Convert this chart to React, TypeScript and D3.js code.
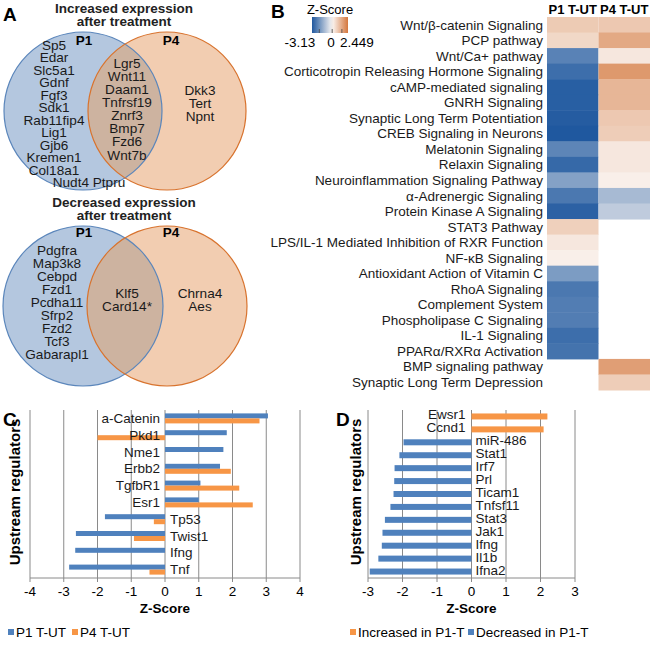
import React, { useEffect, useRef } from 'react';
import * as d3 from 'd3';

// Panel A: Venn gene lists
const upP1Only = ['Sp5', 'Edar', 'Slc5a1', 'Gdnf', 'Fgf3', 'Sdk1', 'Rab11fip4', 'Lig1', 'Gjb6', 'Kremen1', 'Col18a1', 'Nudt4 Ptpru'];
const upShared = ['Lgr5', 'Wnt11', 'Daam1', 'Tnfrsf19', 'Znrf3', 'Bmp7', 'Fzd6', 'Wnt7b'];
const upP4Only = ['Dkk3', 'Tert', 'Npnt'];
const downP1Only = ['Pdgfra', 'Map3k8', 'Cebpd', 'Fzd1', 'Pcdha11', 'Sfrp2', 'Fzd2', 'Tcf3', 'Gabarapl1'];
const downShared = ['Klf5', 'Card14*'];
const downP4Only = ['Chrna4', 'Aes'];

// Panel B: pathway heatmap
const pathways = [
  'Wnt/β-catenin Signaling', 'PCP pathway', 'Wnt/Ca+ pathway', 'Corticotropin Releasing Hormone Signaling',
  'cAMP-mediated signaling', 'GNRH Signaling', 'Synaptic Long Term Potentiation', 'CREB Signaling in Neurons',
  'Melatonin Signaling', 'Relaxin Signaling', 'Neuroinflammation Signaling Pathway', 'α-Adrenergic Signaling',
  'Protein Kinase A Signaling', 'STAT3 Pathway', 'LPS/IL-1 Mediated Inhibition of RXR Function', 'NF-κB Signaling',
  'Antioxidant Action of Vitamin C', 'RhoA Signaling', 'Complement System', 'Phospholipase C Signaling',
  'IL-1 Signaling', 'PPARα/RXRα Activation', 'BMP signaling pathway', 'Synaptic Long Term Depression',
];
const p1Pathway: (number | null)[] = [0.85, 0.6, -2.3, -2.7, -3.0, -3.0, -3.05, -3.13, -2.25, -2.8, -1.7, -2.5, -2.95, 0.75, 0.3, 0.15, -1.8, -2.5, -2.4, -2.4, -2.7, -2.6, null, null];
const p4Pathway: (number | null)[] = [0.9, 1.5, 0.3, 1.8, 1.25, 1.25, 0.9, 0.8, 0.3, 0.3, 0.15, -1.2, -0.86, null, null, null, null, null, null, null, null, null, 1.7, 0.8];
const heatColumns = ['P1 T-UT', 'P4 T-UT'];
const zDomain = [-3.13, 0, 2.449];
const zLabels = ['-3.13', '0', '2.449'];

// Panel C: upstream regulators, P1 vs P4
const regulatorsC = ['a-Catenin', 'Pkd1', 'Nme1', 'Erbb2', 'TgfbR1', 'Esr1', 'Tp53', 'Twist1', 'Ifng', 'Tnf'];
const p1Reg: (number | null)[] = [3.05, 1.83, 1.73, 1.63, 1.05, 1.0, -1.78, -2.64, -2.66, -2.84];
const p4Reg: (number | null)[] = [2.8, -2.0, null, 1.95, 2.2, 2.6, -0.33, -0.92, null, -0.46];
const ticksC = [-4, -3, -2, -1, 0, 1, 2, 3, 4];

// Panel D: upstream regulators in P1-T
const regulatorsD = ['Ewsr1', 'Ccnd1', 'miR-486', 'Stat1', 'Irf7', 'Prl', 'Ticam1', 'Tnfsf11', 'Stat3', 'Jak1', 'Ifng', 'Il1b', 'Ifna2'];
const zD = [2.2, 2.09, -1.97, -2.09, -2.23, -2.24, -2.26, -2.35, -2.51, -2.58, -2.6, -2.7, -2.95];
const ticksD = [-3, -2, -1, 0, 1, 2, 3];

const FONT = "'Liberation Sans', Arial, Helvetica, sans-serif";
const BLUE = '#4f81bd';
const ORANGE = '#f79646';
const GRID = '#8a8a8a';

export default function App() {
  const ref = useRef<SVGSVGElement>(null);

  useEffect(() => {
    if (!ref.current) return;
    const svg = d3.select(ref.current);
    svg.selectAll('*').remove();
    svg.style('font-family', FONT);

    const defs = svg.append('defs');

    const letter = (t: string, x: number, y: number) =>
      svg.append('text').attr('x', x).attr('y', y).attr('font-size', 19).attr('font-weight', 'bold').text(t);

    // ---------- Panel A ----------
    letter('A', 3, 21);

    const venn = (id: string, titles: string[], titleY: number, cy: number, r: number,
      left: string[], shared: string[], right: string[], leftY: number, sharedY: number, rightY: number,
      leftX: number, labelY: number) => {
      const g = svg.append('g');
      const cxL = 83, cxR = 167;
      titles.forEach((t, i) => {
        g.append('text').attr('x', 124).attr('y', titleY + i * 13).attr('text-anchor', 'middle')
          .attr('font-size', 13.5).attr('font-weight', 'bold').attr('fill', '#222').text(t);
      });
      defs.append('clipPath').attr('id', `clip-${id}`)
        .append('circle').attr('cx', cxL).attr('cy', cy).attr('r', r);
      g.append('circle').attr('cx', cxL).attr('cy', cy).attr('r', r).attr('fill', '#b4c7df');
      g.append('circle').attr('cx', cxR).attr('cy', cy).attr('r', r).attr('fill', '#f2cdb1');
      g.append('circle').attr('cx', cxR).attr('cy', cy).attr('r', r).attr('fill', '#cdb3a0')
        .attr('clip-path', `url(#clip-${id})`);
      g.append('circle').attr('cx', cxL).attr('cy', cy).attr('r', r).attr('fill', 'none')
        .attr('stroke', '#5b86bb').attr('stroke-width', 1.2);
      g.append('circle').attr('cx', cxR).attr('cy', cy).attr('r', r).attr('fill', 'none')
        .attr('stroke', '#d8732e').attr('stroke-width', 1.2);

      g.append('text').attr('x', 84).attr('y', labelY).attr('text-anchor', 'middle')
        .attr('font-size', 13.5).attr('font-weight', 'bold').text('P1');
      g.append('text').attr('x', 171).attr('y', labelY).attr('text-anchor', 'middle')
        .attr('font-size', 13.5).attr('font-weight', 'bold').text('P4');

      const col = (names: string[], x: number, y0: number, step: number, lastX?: number) => {
        names.forEach((n, i) => {
          g.append('text')
            .attr('x', lastX !== undefined && i === names.length - 1 ? lastX : x)
            .attr('y', y0 + i * step + 4.8)
            .attr('text-anchor', 'middle').attr('font-size', 13.6).attr('fill', '#1a1a1a').text(n);
        });
      };
      col(left, leftX, leftY, left.length > 10 ? 12.5 : 13, left.length > 10 ? 89 : undefined);
      col(shared, 127, sharedY, 13.1);
      col(right, 200, rightY, 13);
    };

    venn('up', ['Increased expression', 'after treatment'], 13, 111, 79,
      upP1Only, upShared, upP4Only, 45, 63, 90, 54, 45);
    venn('down', ['Decreased expression', 'after treatment'], 207, 306, 80,
      downP1Only, downShared, downP4Only, 250, 293, 293, 57, 237);

    // ---------- Panel B ----------
    letter('B', 271, 18);
    const color = d3.scaleLinear<string>().domain(zDomain).range(['#1f589f', '#fbf7f4', '#d4773d']).clamp(true);

    const grad = defs.append('linearGradient').attr('id', 'zgrad').attr('x1', '0%').attr('x2', '100%');
    d3.range(0, 1.0001, 0.1).forEach(t => {
      const v = zDomain[0] + t * (zDomain[2] - zDomain[0]);
      grad.append('stop').attr('offset', `${t * 100}%`).attr('stop-color', color(v));
    });
    const cbar = d3.scaleLinear().domain([zDomain[0], zDomain[2]]).range([312, 348]);
    svg.append('text').attr('x', 330).attr('y', 14).attr('text-anchor', 'middle')
      .attr('font-size', 13).text('Z-Score');
    svg.append('rect').attr('x', 312).attr('y', 17).attr('width', 36).attr('height', 16).attr('fill', 'url(#zgrad)');
    const cbarTicks = [-2, 0, 1.5];
    cbarTicks.forEach(v => {
      svg.append('line').attr('x1', cbar(v)).attr('x2', cbar(v)).attr('y1', 29).attr('y2', 33)
        .attr('stroke', '#444').attr('stroke-width', 0.8);
    });
    const labelXs = [300, 331, 357];
    zLabels.forEach((t, i) => {
      svg.append('text').attr('x', labelXs[i]).attr('y', 47).attr('text-anchor', 'middle')
        .attr('font-size', 13.5).text(t);
    });

    const hy = d3.scaleBand().domain(pathways).range([17, 390]);
    const hx = d3.scaleBand().domain(heatColumns).range([547, 650]);
    heatColumns.forEach(c => {
      svg.append('text').attr('x', hx(c)! + hx.bandwidth() / 2).attr('y', 14).attr('text-anchor', 'middle')
        .attr('font-size', 13).attr('font-weight', 'bold').text(c);
    });
    const cols = [p1Pathway, p4Pathway];
    pathways.forEach((p, i) => {
      svg.append('text').attr('x', 543).attr('y', hy(p)! + hy.bandwidth() / 2 + 4.8)
        .attr('text-anchor', 'end').attr('font-size', 13.5).attr('fill', '#1a1a1a').text(p);
      cols.forEach((vals, j) => {
        const v = vals[i];
        if (v === null) return;
        svg.append('rect').attr('x', hx(heatColumns[j])!).attr('y', hy(p)!)
          .attr('width', hx.bandwidth()).attr('height', hy.bandwidth() + 0.5).attr('fill', color(v));
      });
    });

    // ---------- Bar panels ----------
    const barPanel = (domain: [number, number], range: [number, number], ticks: number[],
      cats: string[], yLabelX: number) => {
      const g = svg.append('g');
      const x = d3.scaleLinear().domain(domain).range(range);
      const y = d3.scaleBand().domain(cats).range([410, 578]);
      ticks.forEach(t => {
        g.append('line').attr('x1', x(t)).attr('x2', x(t)).attr('y1', 410).attr('y2', 582)
          .attr('stroke', GRID).attr('stroke-width', 1);
        g.append('text').attr('x', x(t)).attr('y', 596).attr('text-anchor', 'middle')
          .attr('font-size', 13.5).text(String(t));
      });
      g.append('line').attr('x1', x(domain[0])).attr('x2', x(domain[1])).attr('y1', 578).attr('y2', 578)
        .attr('stroke', GRID).attr('stroke-width', 1);
      g.append('text').attr('x', x(0)).attr('y', 613).attr('text-anchor', 'middle')
        .attr('font-size', 13.5).attr('font-weight', 'bold').text('Z-Score');
      g.append('text').attr('transform', `translate(${yLabelX},492) rotate(-90)`).attr('text-anchor', 'middle')
        .attr('font-size', 15).attr('font-weight', 'bold').text('Upstream regulators');
      return { g, x, y };
    };

    // Panel C
    letter('C', 3, 426);
    {
      const { g, x, y } = barPanel([-4, 4], [30, 300], ticksC, regulatorsC, 20);
      const h = 5;
      regulatorsC.forEach((c, i) => {
        const mid = y(c)! + y.bandwidth() / 2;
        const a = p1Reg[i], b = p4Reg[i];
        if (a !== null) g.append('rect').attr('x', Math.min(x(0), x(a))).attr('y', mid - h)
          .attr('width', Math.abs(x(a) - x(0))).attr('height', h).attr('fill', BLUE);
        if (b !== null) g.append('rect').attr('x', Math.min(x(0), x(b))).attr('y', mid)
          .attr('width', Math.abs(x(b) - x(0))).attr('height', h).attr('fill', ORANGE);
        const pos = (a ?? 0) >= 0;
        g.append('text').attr('x', pos ? x(0) - 5 : x(0) + 5).attr('y', mid + 4.5)
          .attr('text-anchor', pos ? 'end' : 'start').attr('font-size', 13.5).attr('fill', '#1a1a1a').text(c);
      });
      const leg = [['P1 T-UT', BLUE, 8], ['P4 T-UT', ORANGE, 72]] as const;
      leg.forEach(([t, c, lx]) => {
        svg.append('rect').attr('x', lx).attr('y', 629).attr('width', 6).attr('height', 6).attr('fill', c);
        svg.append('text').attr('x', lx + 8).attr('y', 637).attr('font-size', 13.5).text(t);
      });
    }

    // Panel D
    letter('D', 336, 426);
    {
      const { g, x, y } = barPanel([-3, 3], [368, 575], ticksD, regulatorsD, 361);
      const h = 6;
      regulatorsD.forEach((c, i) => {
        const mid = y(c)! + y.bandwidth() / 2;
        const v = zD[i];
        g.append('rect').attr('x', Math.min(x(0), x(v))).attr('y', mid - h / 2)
          .attr('width', Math.abs(x(v) - x(0))).attr('height', h).attr('fill', v >= 0 ? ORANGE : BLUE);
        const pos = v >= 0;
        g.append('text').attr('x', pos ? x(0) - 6 : x(0) + 4).attr('y', mid + 3)
          .attr('text-anchor', pos ? 'end' : 'start').attr('font-size', 13.5).attr('fill', '#1a1a1a').text(c);
      });
      const leg = [['Increased in P1-T', ORANGE, 350], ['Decreased in P1-T', BLUE, 468]] as const;
      leg.forEach(([t, c, lx]) => {
        svg.append('rect').attr('x', lx).attr('y', 629).attr('width', 6).attr('height', 6).attr('fill', c);
        svg.append('text').attr('x', lx + 8).attr('y', 637).attr('font-size', 13.5).text(t);
      });
    }
  }, []);

  return (
    <svg ref={ref} width={666} height={645}
      style={{ position: 'absolute', left: 0, top: 0, background: '#fff' }} />
  );
}
